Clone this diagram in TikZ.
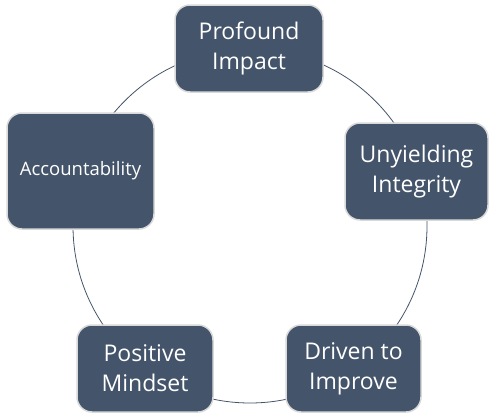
\documentclass[tikz,border=0pt]{standalone}
\usepackage{fontspec}
\setmainfont{Open Sans}
\definecolor{boxfill}{HTML}{44546A}
\definecolor{boxedge}{HTML}{D9D9D9}
\definecolor{ring}{HTML}{44546A}
\begin{document}
\begin{tikzpicture}[x=1pt,y=-1pt,
  cbox/.style={draw=boxedge, line width=1.5pt, fill=boxfill, rounded corners=15pt,
    text=white, align=center, inner sep=0pt, font=\fontsize{23}{30}\selectfont},
  ring/.style={draw=ring, line width=0.8pt}]
\useasboundingbox (0,0) rectangle (500,415);
\coordinate (c) at (250,226);
\draw[ring] (c) circle[radius=177];
\node[cbox, minimum width=148pt, minimum height=87pt] (a) at (249,48.5) {Profound\\Impact};
\node[cbox, minimum width=143pt, minimum height=97pt] (b) at (416.5,171.5) {Unyielding\\Integrity};
\node[cbox, minimum width=135pt, minimum height=87pt] (d) at (353.5,368.5) {Driven to\\Improve};
\node[cbox, minimum width=136pt, minimum height=87pt] (e) at (145,368.5) {Positive\\Mindset};
\node[cbox, minimum width=147pt, minimum height=116pt, font=\fontsize{18.5}{22}\selectfont] (f) at (80.5,171) {Accountability};
\end{tikzpicture}
\end{document}
